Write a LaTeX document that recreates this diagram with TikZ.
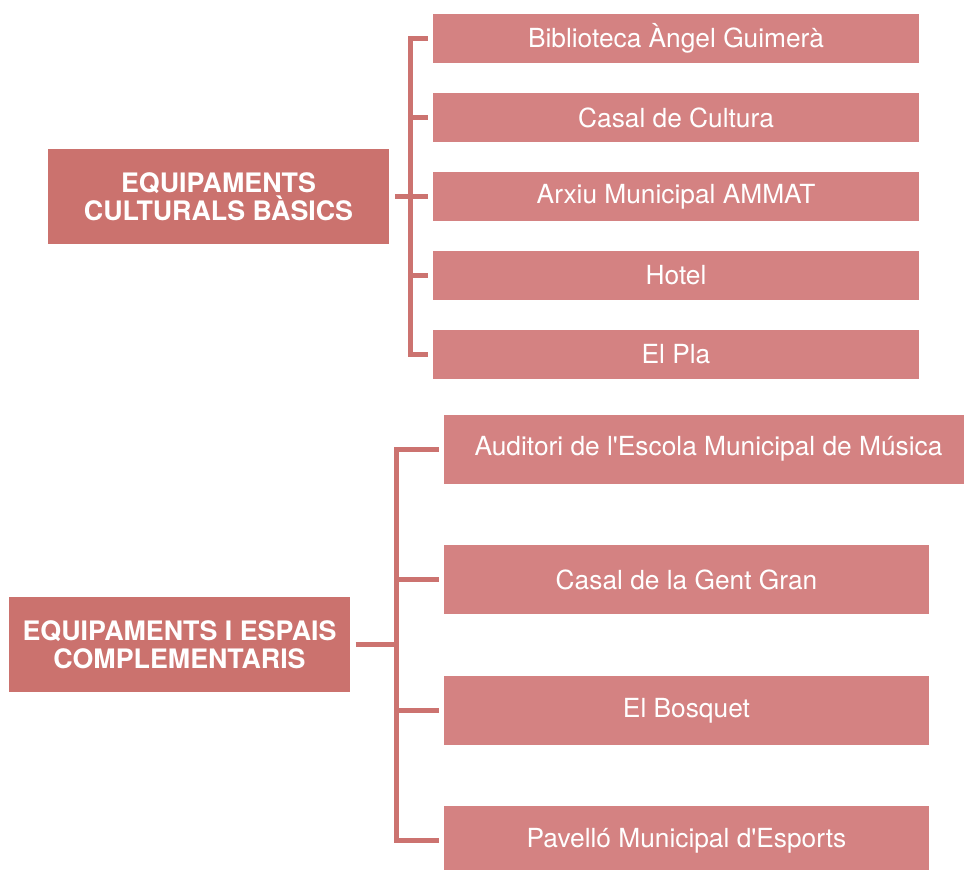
\documentclass[tikz,border=0pt]{standalone}
\usepackage{fontspec}
\setmainfont{TeX Gyre Heros}[Ligatures=TeXOff]
\definecolor{parentfill}{HTML}{CB726E}
\definecolor{childfill}{HTML}{D48282}
\definecolor{linecol}{HTML}{CC7370}
\begin{document}
\begin{tikzpicture}[x=1pt,y=-1pt,
  parentbox/.style={draw=none,fill=parentfill,minimum width=341pt,minimum height=95pt,inner sep=0pt,
    text=white,font=\fontsize{26.8}{28}\selectfont\bfseries,align=center},
  childbox/.style={draw=none,fill=childfill,minimum width=486pt,minimum height=49pt,inner sep=0pt,
    text=white,font=\fontsize{26.3}{28}\selectfont},
  childboxb/.style={childbox,minimum width=485pt,minimum height=69pt},
  conn/.style={draw=linecol,line width=5pt}]
\useasboundingbox (0,0) rectangle (964,870);
% group 1
\node[parentbox] (p1) at (218.5,196.5) {EQUIPAMENTS\\CULTURALS BÀSICS};
\node[childbox] (c1) at (676,38.5) {Biblioteca Àngel Guimerà};
\node[childbox] (c2) at (676,117.5) {Casal de Cultura};
\node[childbox] (c3) at (676,196.5) {Arxiu Municipal AMMAT};
\node[childbox] (c4) at (676,275.5) {Hotel};
\node[childbox] (c5) at (676,354.5) {El Pla};
\draw[conn] ([xshift=-5pt]c1.west) -- ++(-17,0) |- ([xshift=-5pt]c5.west);
\draw[conn] ([xshift=-5pt]c2.west) -- ++(-17,0);
\draw[conn] ([xshift=-5pt]c4.west) -- ++(-17,0);
\draw[conn] ([xshift=6pt]p1.east) -- ([xshift=-5pt]c3.west);
% group 2
\node[parentbox] (p2) at (179.5,644.5) {EQUIPAMENTS I ESPAIS\\COMPLEMENTARIS};
\node[childboxb,minimum width=529pt] (d1) at (708.5,449) {Auditori de l'Escola Municipal de Música};
\node[childboxb] (d2) at (686.5,579.5) {Casal de la Gent Gran};
\node[childboxb] (d3) at (686.5,710.5) {El Bosquet};
\node[childboxb] (d4) at (686.5,840.5) {Pavelló Municipal d'Esports};
\draw[conn] ([xshift=-5pt]d1.west) -- ++(-42,0) coordinate (v1) |- ([xshift=-5pt]d4.west);
\draw[conn] ([xshift=-5pt]d2.west) -- ++(-42,0);
\draw[conn] ([xshift=-5pt]d3.west) -- ++(-42,0);
\draw[conn] ([xshift=5.5pt]p2.east) -- ([xshift=2.5pt]p2.east -| v1);
\end{tikzpicture}
\end{document}
